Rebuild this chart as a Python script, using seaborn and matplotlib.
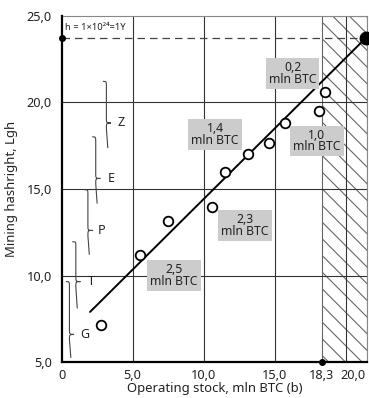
import matplotlib
matplotlib.use("Agg")
import matplotlib.pyplot as plt
import matplotlib.transforms as mtransforms
from matplotlib.path import Path
from matplotlib.patches import PathPatch
import seaborn as sns
import pandas as pd

# данные с картинки
stock = [2.8, 5.5, 7.5, 10.6, 11.5, 13.1, 14.6, 15.7, 18.1, 18.5]
hashright = [7.15, 11.2, 13.15, 13.95, 16.0, 17.0, 17.65, 18.8, 19.5, 20.6]

trend_x = [2.0, 21.4]
trend_y = [7.9, 23.7]

limit_h = 23.7
limit_stock = 18.3

xticks = [0, 5, 10, 15, 18.3, 20]
xtick_labels = ["0", "5,0", "10,0", "15,0", "18,3", "20,0"]
yticks = [5, 10, 15, 20, 25]
ytick_labels = ["5,0", "10,0", "15,0", "20,0", "25,0"]

box_text = ["0,2\nmln BTC", "1,4\nmln BTC", "1,0\nmln BTC", "2,3\nmln BTC", "2,5\nmln BTC"]
box_x = [16.25, 10.8, 17.95, 12.9, 7.9]
box_y = [21.65, 18.15, 17.75, 12.9, 10.0]

brace_names = ["G", "T", "P", "E", "Z"]
brace_low = [5.25, 8.1, 11.2, 14.15, 17.35]
brace_high = [9.65, 11.95, 14.95, 18.0, 21.2]
brace_mid = [6.6, 9.65, 12.6, 15.6, 18.8]
brace_x = [0.55, 1.0, 1.85, 2.4, 3.15]
letter_x = [1.6, 2.1, 2.8, 3.5, 4.2]

df = pd.DataFrame({"stock": stock, "hashright": hashright})
df_trend = pd.DataFrame({"x": trend_x, "y": trend_y})

sns.set_theme(style="white")
plt.rcParams["font.family"] = ["Noto Sans", "DejaVu Sans"]
plt.rcParams["hatch.linewidth"] = 0.8

fig = plt.figure(figsize=(3.69, 3.98), dpi=100)
ax = fig.add_axes([0.167, 0.09, 0.828, 0.871])

# заштрихованная зона
ax.axvspan(limit_stock, 21.5, facecolor="white", edgecolor="#666666",
           hatch="\\\\", lw=0.8, zorder=1)

for v in [5, 10, 15, 20]:
    ax.axvline(v, color="#333333", lw=0.8, zorder=2)
for v in [10, 15, 20]:
    ax.axhline(v, color="#333333", lw=0.8, zorder=2)

ax.plot([0, trend_x[1]], [limit_h, limit_h], color="#444444", lw=0.9,
        dashes=(6, 4), zorder=3)

sns.lineplot(data=df_trend, x="x", y="y", color="black", lw=1.4, ax=ax, zorder=4)
sns.scatterplot(data=df, x="stock", y="hashright", s=48, facecolor="white",
                edgecolor="black", linewidth=1.3, ax=ax, zorder=5)

ax.plot([0], [limit_h], "o", color="black", ms=4, clip_on=False, zorder=6)
ax.plot([limit_stock], [5], "o", color="black", ms=4, clip_on=False, zorder=6)
ax.plot([trend_x[1]], [trend_y[1]], "o", color="black", ms=9, clip_on=False, zorder=6)

for t, x, y in zip(box_text, box_x, box_y):
    ax.text(x, y, t, ha="center", va="center", fontsize=8.8, color="#222222",
            linespacing=0.85, zorder=7,
            bbox=dict(boxstyle="square,pad=0.25", fc="#cccccc", ec="none"))

# фигурные скобки
for name, lo, hi, mid, x, lx in zip(brace_names, brace_low, brace_high, brace_mid,
                                    brace_x, letter_x):
    hw = 0.25
    r = 0.3
    verts = [
        (x - hw, hi), (x, hi), (x, hi), (x, hi - r),
        (x, mid + r),
        (x, mid), (x, mid), (x + hw * 1.3, mid),
        (x, mid), (x, mid), (x, mid - r),
        (x + 0.1, lo),
    ]
    codes = [Path.MOVETO, Path.CURVE4, Path.CURVE4, Path.CURVE4,
             Path.LINETO,
             Path.CURVE4, Path.CURVE4, Path.CURVE4,
             Path.CURVE4, Path.CURVE4, Path.CURVE4,
             Path.LINETO]
    ax.add_patch(PathPatch(Path(verts, codes), fill=False, ec="#444444", lw=0.8, zorder=3))
    ax.text(lx, mid, name, ha="center", va="center",
            fontsize=9, color="#222222", zorder=3)

ax.text(0.25, 24.3, "h = 1×10²⁴=1Y", fontsize=6.8, color="#222222",
        ha="left", va="center")

ax.set_xlim(0, 21.5)
ax.set_ylim(5, 25)
ax.set_xticks(xticks)
ax.set_xticklabels(xtick_labels)
ax.set_yticks(yticks)
ax.set_yticklabels(ytick_labels)
ax.tick_params(length=0, labelsize=9.2, colors="#222222")
ax.tick_params(axis="x", pad=5)
ax.tick_params(axis="y", pad=7)
# подпись 20,0 немного сдвинута вправо, как на оригинале
shift = mtransforms.ScaledTranslation(0.075, 0, fig.dpi_scale_trans)
lab = ax.get_xticklabels()[-1]
lab.set_transform(lab.get_transform() + shift)
ax.set_xlabel("Operating stock, mln BTC (b)", fontsize=9.4, color="#222222", labelpad=0)
ax.set_ylabel("Mining hashright, Lgh", fontsize=9.4, color="#222222", labelpad=6)

for s in ["left", "bottom"]:
    ax.spines[s].set_color("black")
    ax.spines[s].set_linewidth(1.6)
    ax.spines[s].set_zorder(5)
for s in ["top", "right"]:
    ax.spines[s].set_color("#888888")
    ax.spines[s].set_linewidth(0.8)

fig.savefig("out.png", dpi=100)
